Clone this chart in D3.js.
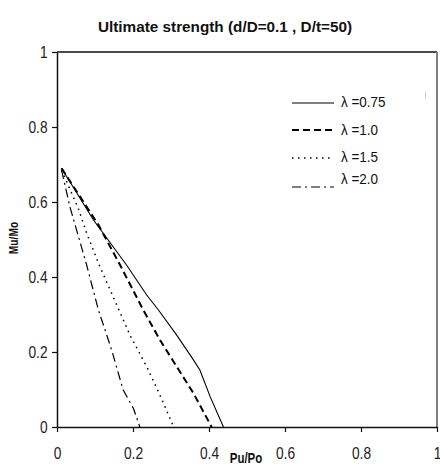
<!DOCTYPE html>
<html>
<head>
<meta charset="utf-8">
<script src="https://cdn.jsdelivr.net/npm/d3@7"></script>
<style>
  body { margin: 0; background: #fff; }
  text { font-family: "Liberation Sans", Arial, sans-serif; }
</style>
</head>
<body>
<svg id="chart"></svg>
<script>
// values
const pu075 = [0.012, 0.096, 0.183, 0.236, 0.267, 0.315, 0.359, 0.376, 0.403, 0.438]
const mu075 = [0.690, 0.552, 0.432, 0.352, 0.312, 0.245, 0.179, 0.152, 0.081, 0.0]

const pu10 = [0.012, 0.109, 0.166, 0.227, 0.271, 0.315, 0.359, 0.407]
const mu10 = [0.690, 0.539, 0.432, 0.312, 0.232, 0.161, 0.090, 0.0]

const pu15 = [0.012, 0.056, 0.078, 0.113, 0.148, 0.192, 0.236, 0.271, 0.307]
const mu15 = [0.685, 0.583, 0.517, 0.427, 0.347, 0.245, 0.161, 0.085, 0.0]

const pu20 = [0.012, 0.034, 0.078, 0.109, 0.144, 0.174, 0.201, 0.218]
const mu20 = [0.685, 0.587, 0.432, 0.312, 0.205, 0.099, 0.050, 0.0]

const seriesNames = ["\u03bb =0.75", "\u03bb =1.0", "\u03bb =1.5", "\u03bb =2.0"]
const xTicks = [0, 0.2, 0.4, 0.6, 0.8, 1]
const yTicks = [0, 0.2, 0.4, 0.6, 0.8, 1]

const width = 440
const height = 464
const margins = {left: 57, right: 3, top: 52, bottom: 37}
const narrow = 0.86   // the source font is a condensed sans

const svg = d3.select("#chart").attr("width", width).attr("height", height)

const scaleX = d3.scaleLinear().domain([0, 1]).range([margins.left, width - margins.right])
const scaleY = d3.scaleLinear().domain([0, 1]).range([height - margins.bottom, margins.top])

// frame: black top, grey right
svg.append("line")
    .attr("x1", scaleX(0)).attr("x2", scaleX(1))
    .attr("y1", scaleY(1)).attr("y2", scaleY(1))
    .attr("stroke", "#111").attr("stroke-width", 1.5)
svg.append("line")
    .attr("x1", scaleX(1)).attr("x2", scaleX(1))
    .attr("y1", scaleY(1)).attr("y2", scaleY(0))
    .attr("stroke", "#808080").attr("stroke-width", 2)
// small grey speck near the legend
svg.append("line")
    .attr("x1", scaleX(0.97)).attr("x2", scaleX(0.97))
    .attr("y1", scaleY(0.895)).attr("y2", scaleY(0.875))
    .attr("stroke", "#ccc").attr("stroke-width", 1)

const xAxis = d3.axisBottom(scaleX).tickValues(xTicks).tickSize(5).tickSizeOuter(0).tickPadding(16).tickFormat(d => d)
const yAxis = d3.axisLeft(scaleY).tickValues(yTicks).tickSize(5).tickSizeOuter(0).tickPadding(6).tickFormat(d => d)

const gx = svg.append("g").attr("transform", `translate(0, ${scaleY(0)})`).call(xAxis)
const gy = svg.append("g").attr("transform", `translate(${scaleX(0)}, 0)`).call(yAxis)

for (const g of [gx, gy]) {
    g.attr("font-family", null)
    g.select(".domain").attr("stroke", "#111").attr("stroke-width", 1.5)
    g.selectAll(".tick line").attr("stroke", "#111").attr("stroke-width", 1.2)
    g.selectAll(".tick text").attr("font-size", 16).attr("fill", "#222")
        .attr("transform", `scale(${narrow}, 1)`)
}

// title and axis labels
svg.append("text").text("Ultimate strength (d/D=0.1 , D/t=50)")
    .attr("transform", "translate(225, 32) scale(1.02, 1)").attr("text-anchor", "middle")
    .attr("font-size", 15).attr("font-weight", "bold").attr("fill", "#111")

svg.append("text").text("Pu/Po")
    .attr("transform", "translate(246, 463) scale(0.82, 1)").attr("text-anchor", "middle")
    .attr("font-size", 14).attr("font-weight", "bold").attr("fill", "#111")

svg.append("text").text("Mu/Mo")
    .attr("transform", "translate(18, 238) rotate(-90) scale(0.85, 1)").attr("text-anchor", "middle")
    .attr("font-size", 12).attr("font-weight", "bold").attr("fill", "#111")

// curves
const series = [
    {x: pu075, y: mu075, dash: null, w: 1.1},
    {x: pu10, y: mu10, dash: "7,4", w: 2},
    {x: pu15, y: mu15, dash: "1.5,4.5", w: 1.5},
    {x: pu20, y: mu20, dash: "9,4,2,4", w: 1.2}
]

const lineGenerator = d3.line()
    .x(d => scaleX(d[0]))
    .y(d => scaleY(d[1]))

svg.append("g").selectAll("path")
    .data(series)
    .join("path")
    .attr("d", s => lineGenerator(d3.zip(s.x, s.y)))
    .attr("fill", "none")
    .attr("stroke", "#000")
    .attr("stroke-width", s => s.w)
    .attr("stroke-dasharray", s => s.dash)

// legend
const legendLineY = [103, 130, 158, 187]
const legendTextY = [107, 135, 162, 184]
const legend = svg.append("g")
legend.selectAll("line")
    .data(series)
    .join("line")
    .attr("x1", 292).attr("x2", 334)
    .attr("y1", (d, i) => legendLineY[i]).attr("y2", (d, i) => legendLineY[i])
    .attr("stroke", "#000")
    .attr("stroke-width", s => s.w)
    .attr("stroke-dasharray", s => s.dash)
legend.selectAll("text")
    .data(seriesNames)
    .join("text")
    .text(d => d)
    .attr("transform", (d, i) => `translate(341, ${legendTextY[i]}) scale(0.9, 1)`)
    .attr("font-size", 15)
    .attr("fill", "#111")
</script>
</body>
</html>
